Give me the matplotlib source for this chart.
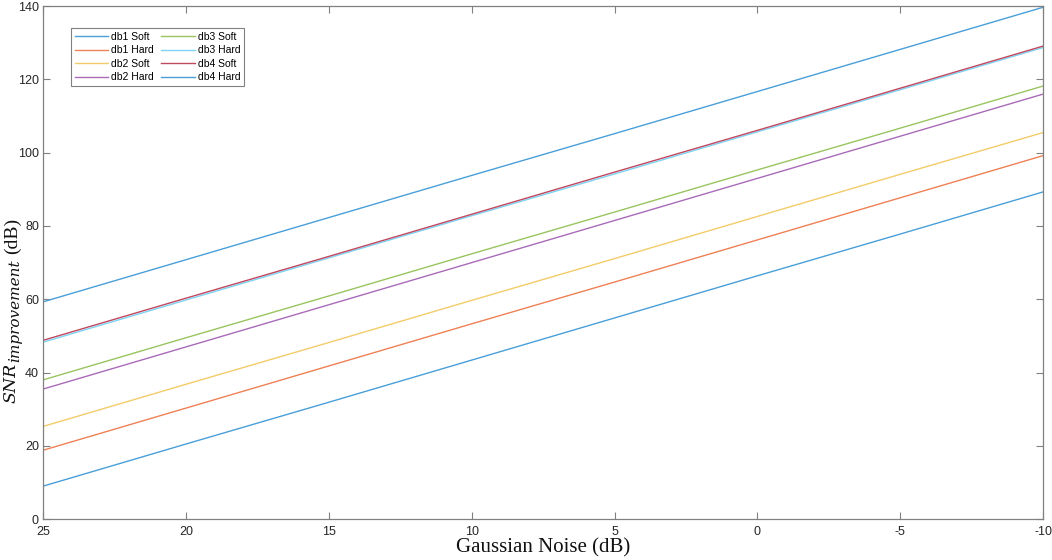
"""SNR improvement vs Gaussian noise level for db1-db4 wavelets, soft and hard thresholding."""
import matplotlib
matplotlib.use('Agg')
import matplotlib.pyplot as plt

# Noise levels (dB)
noise_db = [25, 20, 15, 10, 5, 0, -5, -10]

# SNR improvement (dB)
db1_soft = [9.0, 20.5, 31.9, 43.4, 54.9, 66.4, 77.8, 89.3]
db1_hard = [18.8, 30.3, 41.8, 53.3, 64.7, 76.2, 87.7, 99.2]
db2_soft = [25.3, 36.8, 48.2, 59.7, 71.1, 82.6, 94.1, 105.5]
db2_hard = [35.5, 47.0, 58.5, 70.0, 81.5, 93.0, 104.5, 116.0]
db3_soft = [38.0, 49.5, 60.9, 72.4, 83.8, 95.3, 106.7, 118.2]
db3_hard = [48.3, 59.8, 71.3, 82.8, 94.2, 105.7, 117.2, 128.7]
db4_soft = [48.8, 60.3, 71.7, 83.2, 94.7, 106.1, 117.6, 129.1]
db4_hard = [59.3, 70.8, 82.3, 93.8, 105.2, 116.7, 128.2, 139.7]

labels = ['db1 Soft', 'db1 Hard', 'db2 Soft', 'db2 Hard',
          'db3 Soft', 'db3 Hard', 'db4 Soft', 'db4 Hard']
series = [db1_soft, db1_hard, db2_soft, db2_hard,
          db3_soft, db3_hard, db4_soft, db4_hard]
colors = ['#4a9fd8', '#ee8155', '#f2cc6a', '#a96bb8',
          '#99c460', '#7fd3f3', '#c0485f', '#4a9fd8']

plt.rcParams['axes.unicode_minus'] = False

W, H = 1052, 560
fig = plt.figure(figsize=(W / 100, H / 100), dpi=100)
ax = fig.add_axes([0.041, 0.073, 0.9505, 0.916])

for y, lab, c in zip(series, labels, colors):
    ax.plot(noise_db, y, color=c, linewidth=1.0, label=lab)

ax.set_xlim(25, -10)
ax.set_ylim(0, 140)
ax.set_xticks([25, 20, 15, 10, 5, 0, -5, -10])
ax.set_yticks(range(0, 141, 20))

ax.tick_params(direction='in', length=5, width=0.8, colors='#808080',
               labelcolor='#262626', labelsize=9, top=True, right=True,
               labelfontfamily='Liberation Sans')
ax.tick_params(axis='x', pad=5)
ax.tick_params(axis='y', pad=3)
for sp in ax.spines.values():
    sp.set_color('#808080')
    sp.set_linewidth(0.9)

# x axis title
fig.text(0.516, 0.022, 'Gaussian Noise (dB)', fontsize=15,
         fontfamily='Liberation Serif', color='#111111', ha='center', va='center')

# y axis title built from pieces: SNR + subscript + (dB), stacked upward
renderer = fig.canvas.get_renderer()
base_x = 15 / W
rot = dict(rotation=90, rotation_mode='anchor', ha='left', va='baseline',
           color='#111111')
t1 = fig.text(base_x, (H - 403) / H, 'SNR', family='DejaVu Serif',
              style='italic', size=12.5, **rot)
top = t1.get_window_extent(renderer).y1
t2 = fig.text(base_x + 4 / W, (top + 1) / H, 'improvement', family='DejaVu Serif',
              style='italic', size=11, **rot)
top = t2.get_window_extent(renderer).y1
fig.text(base_x + 2 / W, (top + 5) / H, '(dB)', family='Liberation Serif',
         size=14, **rot)

leg = ax.legend(ncol=2, loc='upper left', bbox_to_anchor=(0.028, 0.957),
                borderaxespad=0, prop={'family': 'Liberation Sans', 'size': 7.5},
                frameon=True, fancybox=False, framealpha=1,
                handlelength=3.2, columnspacing=0.7, labelspacing=0.33,
                borderpad=0.35, handletextpad=0.3)
leg.get_frame().set_edgecolor('#808080')
leg.get_frame().set_linewidth(0.8)

plt.savefig('out.png', dpi=100)
